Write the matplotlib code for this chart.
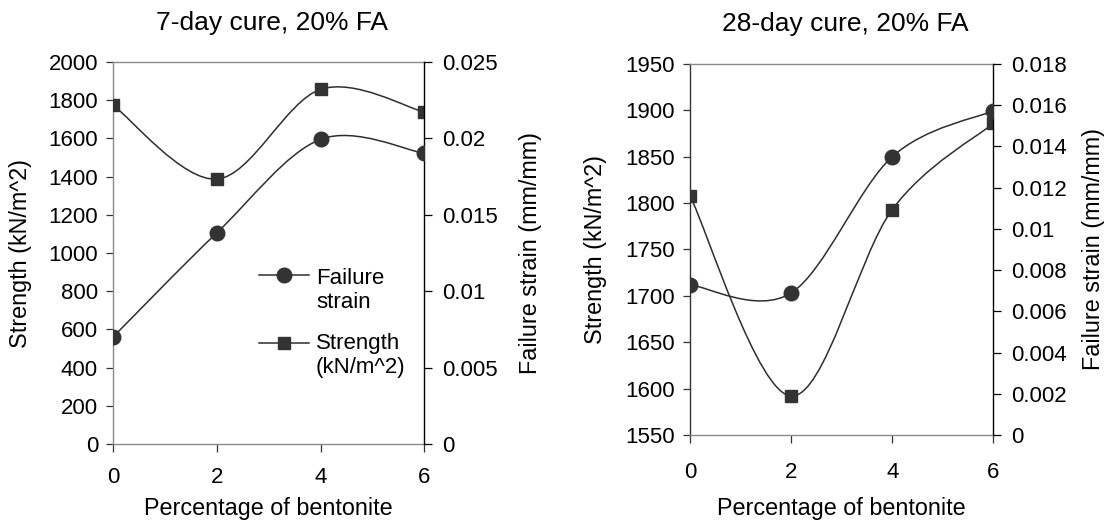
import matplotlib
matplotlib.use("Agg")
import matplotlib.pyplot as plt
import numpy as np
from matplotlib.path import Path
from matplotlib.patches import PathPatch

plt.rcParams['font.family'] = ['Liberation Sans', 'DejaVu Sans']

# ---------------- data ----------------
bentonite = [0, 2, 4, 6]

strength_7 = [1773, 1387, 1857, 1738]
strain_7 = [0.00702, 0.01383, 0.01994, 0.01902]

strength_28 = [1808, 1592, 1793, 1886]
strain_28 = [0.00729, 0.00689, 0.01350, 0.01573]

titles = ["7-day cure, 20% FA", "28-day cure, 20% FA"]
xlabel = "Percentage of bentonite"
ylabel_left = "Strength (kN/m^2)"
ylabel_right = "Failure strain (mm/mm)"
legend_labels = ["Failure\nstrain", "Strength\n(kN/m^2)"]

x_ticks = [0, 2, 4, 6]
strength_ticks_7 = [0, 200, 400, 600, 800, 1000, 1200, 1400, 1600, 1800, 2000]
strain_ticks_7 = [0, 0.005, 0.01, 0.015, 0.02, 0.025]
strain_ticklabels_7 = ["0", "0.005", "0.01", "0.015", "0.02", "0.025"]
strength_ticks_28 = [1550, 1600, 1650, 1700, 1750, 1800, 1850, 1900, 1950]
strain_ticks_28 = [0, 0.002, 0.004, 0.006, 0.008, 0.01, 0.012, 0.014, 0.016, 0.018]
strain_ticklabels_28 = ["0", "0.002", "0.004", "0.006", "0.008", "0.01",
                        "0.012", "0.014", "0.016", "0.018"]

# ---------------- style ----------------
LINE_C = '#2e2e2e'
MARK_C = '#333333'
GRAY = '#8a8a8a'
TICK_FS = 16
LABEL_FS = 16.8
TITLE_FS = 19
LEG_FS = 16


def smooth_path(x, y):
    """Excel-like smoothed line (Catmull-Rom as cubic Bezier segments)."""
    pts = np.column_stack([x, y]).astype(float)
    n = len(pts)
    verts = [pts[0]]
    codes = [Path.MOVETO]
    for i in range(n - 1):
        p0 = pts[i - 1] if i > 0 else pts[i]
        p1 = pts[i]
        p2 = pts[i + 1]
        p3 = pts[i + 2] if i + 2 < n else pts[i + 1]
        c1 = p1 + (p2 - p0) / 6.0
        c2 = p2 - (p3 - p1) / 6.0
        verts += [c1, c2, p2]
        codes += [Path.CURVE4] * 3
    return Path(verts, codes)


def draw_series(ax, x, y, marker, ms):
    ax.add_patch(PathPatch(smooth_path(x, y), fill=False, edgecolor=LINE_C,
                           lw=1.1, zorder=2))
    ax.plot(x, y, linestyle='none', marker=marker, ms=ms, color=MARK_C,
            mec=MARK_C, zorder=3)


def make_panel(rect, strength, strain, s_ticks, e_ticks, e_labels,
               title, title_xy, left_spine_color, ylab_x, xlab_y, xpad):
    ax = fig.add_axes(rect)
    ax2 = ax.twinx()

    draw_series(ax, bentonite, strength, 's', 8.5)
    draw_series(ax2, bentonite, strain, 'o', 10.5)

    ax.set_xlim(x_ticks[0], x_ticks[-1])
    ax.set_ylim(s_ticks[0], s_ticks[-1])
    ax2.set_ylim(e_ticks[0], e_ticks[-1])

    ax.set_xticks(x_ticks)
    ax.set_xticklabels([str(v) for v in x_ticks])
    ax.set_yticks(s_ticks)
    ax.set_yticklabels([str(v) for v in s_ticks])
    ax2.set_yticks(e_ticks)
    ax2.set_yticklabels(e_labels)

    for sp in ['top', 'bottom']:
        ax.spines[sp].set_color(GRAY)
        ax.spines[sp].set_linewidth(1.0)
    ax.spines['left'].set_color(left_spine_color)
    ax.spines['left'].set_linewidth(1.0)
    ax.spines['right'].set_visible(False)
    for sp in ['top', 'bottom', 'left']:
        ax2.spines[sp].set_visible(False)
    ax2.spines['right'].set_color('black')
    ax2.spines['right'].set_linewidth(1.0)

    ax.tick_params(axis='x', direction='out', length=5.5, width=0.9,
                   color='#333333', labelsize=TICK_FS, pad=xpad)
    ax.tick_params(axis='y', direction='out', length=5, width=0.9,
                   color='#333333', labelsize=TICK_FS, pad=6)
    ax2.tick_params(axis='y', direction='out', length=6, width=0.9,
                    color='black', labelsize=TICK_FS, pad=7)

    ax.set_xlabel(xlabel, fontsize=LABEL_FS)
    ax.xaxis.set_label_coords(0.5, xlab_y)
    ax.xaxis.label.set_va('center')

    ax.set_ylabel(ylabel_left, fontsize=LABEL_FS)
    ax.yaxis.set_label_coords(ylab_x[0], 0.5)
    ax.yaxis.label.set_va('center')
    ax2.set_ylabel(ylabel_right, fontsize=LABEL_FS)
    ax2.yaxis.set_label_coords(ylab_x[1], 0.5)
    ax2.yaxis.label.set_va('center')

    ax.set_title(title, fontsize=TITLE_FS, x=title_xy[0], y=title_xy[1],
                 pad=0, va='baseline')
    ax.patch.set_visible(False)
    return ax, ax2


fig = plt.figure(figsize=(11.05, 5.23), dpi=100)

axL, axL2 = make_panel([0.10253, 0.15105, 0.28145, 0.73040],
                       strength_7, strain_7, strength_ticks_7,
                       strain_ticks_7, strain_ticklabels_7,
                       titles[0], (0.51, 1.084), GRAY, (-0.298, 1.340), -0.168, 11)
axR, axR2 = make_panel([0.62443, 0.16826, 0.27448, 0.70937],
                       strength_28, strain_28, strength_ticks_28,
                       strain_ticks_28, strain_ticklabels_28,
                       titles[1], (0.511, 1.090), '#333333', (-0.31, 1.329), -0.197, 14)

# legend (Excel style: handle aligned with first text line)
leg_items = [('o', 10.5), ('s', 8.5)]
leg_handle_y = [0.442, 0.264]
leg_text_y = [0.355, 0.185]   # baseline of the last text line
for (mk, ms), hy, ty, lab in zip(leg_items, leg_handle_y, leg_text_y, legend_labels):
    axL2.plot([0.468, 0.629], [hy, hy], color=LINE_C, lw=1.1,
              transform=axL2.transAxes, clip_on=False)
    axL2.plot([0.5485], [hy], marker=mk, ms=ms, color=MARK_C,
              transform=axL2.transAxes, clip_on=False)
    axL2.text(0.652, ty, lab, transform=axL2.transAxes, fontsize=LEG_FS,
              ha='left', va='baseline', linespacing=1.2)

fig.savefig("out.png", dpi=100)
